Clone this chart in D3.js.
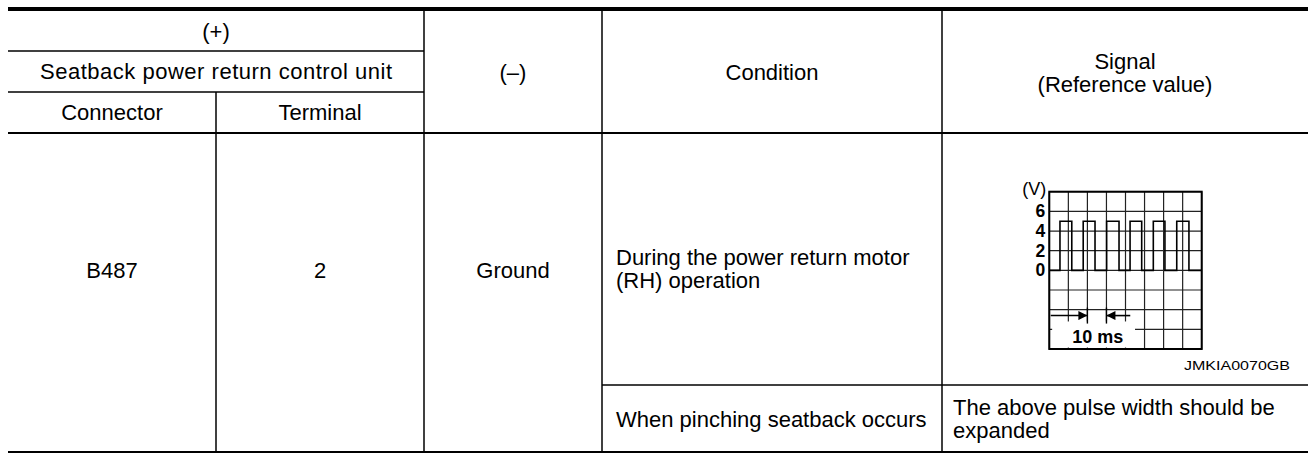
<!DOCTYPE html>
<html>
<head>
<meta charset="utf-8">
<script src="https://cdn.jsdelivr.net/npm/d3@7"></script>
<style>
  html, body { margin: 0; padding: 0; background: #fff; }
  svg { display: block; }
  text { font-family: "Liberation Sans", Arial, Helvetica, sans-serif; fill: #000; }
</style>
</head>
<body>
<svg id="chart" width="1308" height="454"></svg>
<script>
// ---------- data ----------
const headerGroup = ["(+)", "Seatback power return control unit"];
const headerSub = ["Connector", "Terminal"];
const headerCols = ["(–)", "Condition"];
const headerSignal = ["Signal", "(Reference value)"];
const bodyCells = ["B487", "2", "Ground"];
const condition1 = ["During the power return motor", "(RH) operation"];
const condition2 = ["When pinching seatback occurs"];
const signal2 = ["The above pulse width should be", "expanded"];
const figureCode = "JMKIA0070GB";

// oscilloscope
const voltTicks = [6, 4, 2, 0];
const voltUnit = "(V)";
const timeLabel = "10 ms";
const signalT = [0, 5.6, 11.8, 17.8, 24.0, 30.1, 36.6, 42.4, 48.5, 54.6, 60.7, 66.9, 73.3, 80];
const signalV = [0, 5, 0, 5, 0, 5, 0, 5, 0, 5, 0, 5, 0, 0];

// ---------- layout ----------
const svg = d3.select("#chart");
const colX = [8, 216, 424, 602, 942, 1308];
const yTop = 9, yR1 = 51, yR2 = 92, yHead = 133, yBodyMid = 385, yBottom = 452;
const F = 22;

function line(x1, y1, x2, y2, w) {
  svg.append("line").attr("x1", x1).attr("y1", y1).attr("x2", x2).attr("y2", y2)
    .attr("stroke", "#000").attr("stroke-width", w);
}
function txt(x, y, s, opts = {}) {
  const t = svg.append("text").attr("x", x).attr("y", y).attr("dy", "0.35em")
    .attr("text-anchor", opts.anchor || "middle")
    .attr("font-size", opts.size || F)
    .attr("font-weight", opts.weight || "normal")
    .text(s);
  if (opts.len) t.attr("textLength", opts.len).attr("lengthAdjust", opts.adjust || "spacing");
  return t;
}

// horizontal rules
line(colX[0], yTop, 1308, yTop, 4);
line(colX[0], yR1, colX[2], yR1, 1.6);
line(colX[0], yR2, colX[2], yR2, 1.6);
line(colX[0], yHead, 1308, yHead, 2.2);
line(colX[3], yBodyMid, 1308, yBodyMid, 1.6);
line(colX[0], yBottom, 1308, yBottom, 2);

// vertical rules
line(colX[1], yR2, colX[1], yBottom, 1.5);
line(colX[2], yTop, colX[2], yBottom, 1.5);
line(colX[3], yTop, colX[3], yBottom, 1.5);
line(colX[4], yTop, colX[4], yBottom, 1.5);

// header text
txt((colX[0] + colX[2]) / 2, 31, headerGroup[0]);
txt((colX[0] + colX[2]) / 2, 71.5, headerGroup[1], { len: 352 });
txt((colX[0] + colX[1]) / 2, 112.5, headerSub[0]);
txt((colX[1] + colX[2]) / 2, 112.5, headerSub[1]);
txt((colX[2] + colX[3]) / 2, 72, headerCols[0]);
txt((colX[3] + colX[4]) / 2, 72, headerCols[1]);
txt((colX[4] + colX[5]) / 2, 61, headerSignal[0]);
txt((colX[4] + colX[5]) / 2, 84, headerSignal[1]);

// body text
txt((colX[0] + colX[1]) / 2, 270, bodyCells[0]);
txt((colX[1] + colX[2]) / 2, 270, bodyCells[1]);
txt((colX[2] + colX[3]) / 2, 270, bodyCells[2]);
condition1.forEach((s, i) => txt(616, 257 + i * 23, s, { anchor: "start" }));
condition2.forEach((s, i) => txt(616, 419 + i * 23, s, { anchor: "start" }));
signal2.forEach((s, i) => txt(953, 407 + i * 23, s, { anchor: "start" }));

// ---------- oscilloscope ----------
const sx = d3.scaleLinear().domain([0, 80]).range([1049.3, 1201.7]);
const sy = d3.scaleLinear().domain([-8, 8]).range([349, 191.7]);
const g = svg.append("g");

// grid
const xGrid = d3.range(0, 81, 10);
const yGrid = d3.range(-8, 9, 2);
g.selectAll(".vg").data(xGrid).join("line")
  .attr("x1", d => sx(d)).attr("x2", d => sx(d))
  .attr("y1", sy(8)).attr("y2", sy(-8))
  .attr("stroke", "#222").attr("stroke-width", 1.2);
g.selectAll(".hg").data(yGrid).join("line")
  .attr("x1", sx(0)).attr("x2", sx(80))
  .attr("y1", d => sy(d)).attr("y2", d => sy(d))
  .attr("stroke", "#222").attr("stroke-width", 1.2);

// label box (white) for time label
g.append("rect").attr("x", sx(1.5)).attr("y", sy(-5.2)).attr("width", sx(45) - sx(1.5))
  .attr("height", sy(-7.85) - sy(-5.2)).attr("fill", "#fff");

// border
g.append("rect").attr("x", sx(0)).attr("y", sy(8)).attr("width", sx(80) - sx(0))
  .attr("height", sy(-8) - sy(8)).attr("fill", "none").attr("stroke", "#000").attr("stroke-width", 2);

// signal
const pts = signalT.map((t, i) => [t, signalV[i]]);
g.append("path").datum(pts)
  .attr("d", d3.line().x(d => sx(d[0])).y(d => sy(d[1])).curve(d3.curveStepAfter))
  .attr("fill", "none").attr("stroke", "#000").attr("stroke-width", 1.6);

// volt labels
voltTicks.forEach(v => txt(sx(0) - 4, sy(v), v, { anchor: "end", size: 17.5, weight: "bold" }));
txt(sx(0) - 3, sy(8) - 3, voltUnit, { anchor: "end", size: 18 });

// 10 ms arrows
const ay = sy(-4.6);
const defs = svg.append("defs");
defs.append("marker").attr("id", "ah").attr("viewBox", "0 0 10 10").attr("refX", 10).attr("refY", 5)
  .attr("markerWidth", 11).attr("markerHeight", 9).attr("orient", "auto-start-reverse")
  .attr("markerUnits", "userSpaceOnUse")
  .append("path").attr("d", "M0,0 L10,5 L0,10 Z").attr("fill", "#000");
g.append("line").attr("x1", sx(0.75)).attr("x2", sx(20)).attr("y1", ay).attr("y2", ay)
  .attr("stroke", "#000").attr("stroke-width", 1.6).attr("marker-end", "url(#ah)");
g.append("line").attr("x1", sx(42.5)).attr("x2", sx(30)).attr("y1", ay).attr("y2", ay)
  .attr("stroke", "#000").attr("stroke-width", 1.6).attr("marker-end", "url(#ah)");
g.append("line").attr("x1", sx(20)).attr("x2", sx(20)).attr("y1", ay - 8).attr("y2", ay + 8)
  .attr("stroke", "#000").attr("stroke-width", 1.4);
g.append("line").attr("x1", sx(30)).attr("x2", sx(30)).attr("y1", ay - 8).attr("y2", ay + 8)
  .attr("stroke", "#000").attr("stroke-width", 1.4);
txt(sx(25.5), sy(-6.7), timeLabel, { size: 18, weight: "bold" });

// figure code
txt(1290, 365, figureCode, { anchor: "end", size: 13, len: 106, adjust: "spacingAndGlyphs" });
</script>
</body>
</html>
